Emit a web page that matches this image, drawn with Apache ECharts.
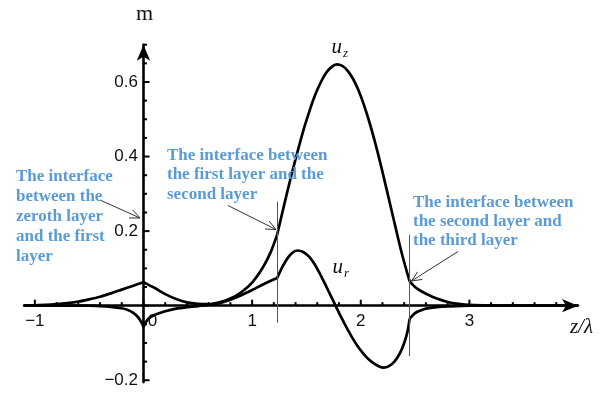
<!DOCTYPE html>
<html>
<head>
<meta charset="utf-8">
<script src="https://cdn.jsdelivr.net/npm/echarts@6/dist/echarts.min.js"></script>
<style>
  html, body { margin: 0; padding: 0; background: #fff; }
  #chart { width: 606px; height: 394px; }
</style>
</head>
<body>
<div id="chart"></div>
<script>
// Displacement amplitude along z/λ: axial (u_z) and radial (u_r) components.
const uzPoints = [
  [-1.1, 0.000], [-1.0, 0.001], [-0.9, 0.002], [-0.8, 0.004], [-0.7, 0.007],
  [-0.6, 0.011], [-0.5, 0.017], [-0.4, 0.024], [-0.3, 0.033], [-0.2, 0.043],
  [-0.1, 0.053], [0, 0.063],
  [0.05, 0.055], [0.1, 0.048], [0.2, 0.031], [0.3, 0.018], [0.4, 0.009],
  [0.5, 0.005], [0.6, 0.004], [0.7, 0.009], [0.8, 0.019], [0.9, 0.036],
  [1.0, 0.062], [1.1, 0.103], [1.17, 0.143], [1.23, 0.190],
  [1.28, 0.252], [1.33, 0.313], [1.38, 0.371], [1.43, 0.426], [1.48, 0.478],
  [1.53, 0.524], [1.58, 0.565], [1.63, 0.598], [1.68, 0.624], [1.73, 0.640],
  [1.78, 0.647], [1.83, 0.643], [1.88, 0.630], [1.93, 0.608], [1.98, 0.577],
  [2.03, 0.538], [2.08, 0.492], [2.13, 0.440], [2.18, 0.383], [2.23, 0.322],
  [2.28, 0.260], [2.33, 0.198], [2.38, 0.138], [2.45, 0.065],
  [2.5, 0.050], [2.55, 0.040], [2.6, 0.032], [2.7, 0.019], [2.8, 0.010],
  [2.9, 0.005], [3.0, 0.002], [3.2, 0.0005], [3.5, 0], [4.0, 0]
];

const urPoints = [
  [-1.1, 0], [-0.5, 0], [-0.4, -0.001], [-0.3, -0.003], [-0.2, -0.007],
  [-0.15, -0.011], [-0.1, -0.018], [-0.05, -0.031], [-0.02, -0.044], [0, -0.057],
  [0.02, -0.045], [0.05, -0.034], [0.1, -0.025], [0.2, -0.015], [0.3, -0.008],
  [0.4, -0.004], [0.5, -0.001], [0.6, 0.002], [0.7, 0.007], [0.8, 0.016],
  [0.9, 0.028], [1.0, 0.042], [1.1, 0.057], [1.23, 0.074],
  [1.28, 0.105], [1.33, 0.129], [1.38, 0.144], [1.42, 0.148], [1.47, 0.144],
  [1.52, 0.133], [1.57, 0.114], [1.62, 0.088], [1.67, 0.059], [1.72, 0.029],
  [1.77, -0.001], [1.82, -0.031], [1.87, -0.059], [1.92, -0.085], [1.97, -0.108],
  [2.02, -0.127], [2.07, -0.143], [2.12, -0.155], [2.17, -0.163], [2.21, -0.166],
  [2.26, -0.162], [2.31, -0.150], [2.36, -0.128], [2.4, -0.100], [2.43, -0.070],
  [2.45, -0.035],
  [2.5, -0.020], [2.55, -0.013], [2.6, -0.008], [2.7, -0.004], [2.8, -0.002],
  [3.0, 0], [4.0, 0]
];

// Layer boundaries (z/λ) where the profiles have a kink
const layerBreaks = [0, 1.23, 2.45];
// Interface marker lines: position and vertical span
const interfaceZ = [1.23, 2.45];
const interfaceTop = [0.279, 0.19];
const interfaceBottom = [-0.046, -0.135];

// Axis ticks and labels
const xTickMajor = [-1, 0, 1, 2, 3];
const xTickLabels = ['\u22121', '', '1', '2', '3'];
const xTickMinor = [-0.8, -0.6, -0.4, -0.2, 0.2, 0.4, 0.6, 0.8, 1.2, 1.4, 1.6, 1.8,
                    2.2, 2.4, 2.6, 2.8, 3.2, 3.4, 3.6, 3.8];
const yTickMajor = [-0.2, 0, 0.2, 0.4, 0.6];
const yTickLabels = ['\u22120.2', '', '0.2', '0.4', '0.6'];
const yTickMinor = [-0.15, -0.1, -0.05, 0.05, 0.1, 0.15, 0.25, 0.3, 0.35, 0.45,
                    0.5, 0.55, 0.65, 0.7];

// Annotation texts
const notes = [
  { text: 'The interface\nbetween the\nzeroth layer\nand the first\nlayer', x: 16, y: 167, lh: 20,
    from: [100, 200], to: [140, 218] },
  { text: 'The interface between\nthe first layer and the\nsecond layer', x: 167, y: 146, lh: 19.4,
    from: [228, 205.5], to: [276, 229.5] },
  { text: 'The interface between\nthe second layer and\nthe third layer', x: 413, y: 193, lh: 19.2,
    from: [458, 251.5], to: [411.5, 281] }
];

// Split a profile into per-layer pieces so kinks at the interfaces stay sharp
function splitByLayers(points) {
  const segs = [];
  let cur = [];
  points.forEach(p => {
    cur.push(p);
    if (layerBreaks.indexOf(p[0]) >= 0 && cur.length > 1) {
      segs.push(cur);
      cur = [p];
    }
  });
  if (cur.length > 1) segs.push(cur);
  return segs;
}

const curveStyle = { color: '#000', width: 2.7 };
const series = [];
[['u_z', uzPoints], ['u_r', urPoints]].forEach(([name, pts]) => {
  splitByLayers(pts).forEach(seg => {
    series.push({
      name, type: 'line', data: seg, showSymbol: false, smooth: 0.3,
      lineStyle: curveStyle, silent: true, z: 3
    });
  });
});

series[0].markLine = {
  silent: true, symbol: 'none', label: { show: false },
  lineStyle: { color: '#555', width: 1, type: 'solid' },
  data: interfaceZ.map((z, i) => [
    { coord: [z, interfaceTop[i]] }, { coord: [z, interfaceBottom[i]] }
  ])
};

const axisLineStyle = { color: '#000', width: 2.6 };

const chart = echarts.init(document.getElementById('chart'), null, { renderer: 'canvas' });
chart.setOption({
  animation: false,
  backgroundColor: '#fff',
  grid: { left: 24, right: 28, top: 44.7, bottom: 11.9, containLabel: false, outerBoundsMode: 'none' },
  xAxis: {
    type: 'value', min: -1.1, max: 4,
    axisLine: { onZero: true, symbol: ['none', 'arrow'], symbolSize: [10, 16], lineStyle: axisLineStyle },
    axisTick: { show: false }, axisLabel: { show: false }, splitLine: { show: false }
  },
  yAxis: {
    type: 'value', min: -0.205, max: 0.7,
    axisLine: { onZero: true, symbol: ['none', 'arrow'], symbolSize: [10, 16], lineStyle: axisLineStyle },
    axisTick: { show: false }, axisLabel: { show: false }, splitLine: { show: false }
  },
  series
});

const toPx = p => chart.convertToPixel({ gridIndex: 0 }, p);
const origin = toPx([0, 0]);
const graphics = [];
const tickStyle = { stroke: '#000', lineWidth: 2 };
const labelFont = '17px "Liberation Sans"';

// Ticks on the horizontal axis point up, on the vertical axis point right
xTickMajor.forEach((v, i) => {
  const x = toPx([v, 0])[0];
  graphics.push({ type: 'line', z: 5, shape: { x1: x, y1: origin[1], x2: x, y2: origin[1] - 6 }, style: tickStyle });
  if (xTickLabels[i]) {
    graphics.push({ type: 'text', z: 5, x: x, y: origin[1] + 16,
      style: { text: xTickLabels[i], font: labelFont, fill: '#111', align: 'center', verticalAlign: 'middle' } });
  }
});
xTickMinor.forEach(v => {
  const x = toPx([v, 0])[0];
  graphics.push({ type: 'line', z: 5, shape: { x1: x, y1: origin[1], x2: x, y2: origin[1] - 3.5 }, style: tickStyle });
});
yTickMajor.forEach((v, i) => {
  const y = toPx([0, v])[1];
  graphics.push({ type: 'line', z: 5, shape: { x1: origin[0], y1: y, x2: origin[0] + 6, y2: y }, style: tickStyle });
  if (yTickLabels[i]) {
    graphics.push({ type: 'text', z: 5, x: origin[0] - 5.5, y: y,
      style: { text: yTickLabels[i], font: labelFont, fill: '#111', align: 'right', verticalAlign: 'middle' } });
  }
});
yTickMinor.forEach(v => {
  const y = toPx([0, v])[1];
  graphics.push({ type: 'line', z: 5, shape: { x1: origin[0], y1: y, x2: origin[0] + 3.5, y2: y }, style: tickStyle });
});

// Zero label on the horizontal axis, nudged to the right of the vertical axis
graphics.push({
  type: 'text', x: origin[0] + 9, y: origin[1] + 15.5, z: 5,
  style: { text: '0', font: labelFont, fill: '#111', align: 'center', verticalAlign: 'middle' }
});

// Arrowhead as an open "V" at the tip
function arrowHead(from, to, len, ang) {
  const a = Math.atan2(to[1] - from[1], to[0] - from[0]);
  return [
    [to[0] - len * Math.cos(a - ang), to[1] - len * Math.sin(a - ang)],
    to,
    [to[0] - len * Math.cos(a + ang), to[1] - len * Math.sin(a + ang)]
  ];
}

const noteColor = '#5b9bd5';
notes.forEach(n => {
  graphics.push({
    type: 'text', x: n.x, y: n.y, z: 10,
    style: { text: n.text, fill: noteColor, font: 'bold 17px "Liberation Serif"',
             lineHeight: n.lh, verticalAlign: 'top', align: 'left' }
  });
  graphics.push({
    type: 'polyline', z: 9, shape: { points: [n.from, n.to] },
    style: { stroke: '#333', lineWidth: 1, fill: null }
  });
  graphics.push({
    type: 'polyline', z: 9, shape: { points: arrowHead(n.from, n.to, 11, 0.42) },
    style: { stroke: '#333', lineWidth: 1, fill: null }
  });
});

// Axis titles
graphics.push({
  type: 'text', x: origin[0] + 1, y: 14, z: 10,
  style: { text: 'm', font: '22px "Liberation Serif"', fill: '#111',
           align: 'center', verticalAlign: 'middle' }
});
graphics.push({
  type: 'text', x: 593, y: 327, z: 10,
  style: { text: 'z/\u03bb', font: 'italic 21px "Liberation Serif"', fill: '#111',
           align: 'right', verticalAlign: 'middle' }
});

// Curve names with subscripts
[['z', 331.5, 47], ['r', 332.5, 267]].forEach(([sub, x, y]) => {
  graphics.push({
    type: 'text', x: x, y: y, z: 10,
    style: { text: 'u', font: 'italic 21px "Liberation Serif"', fill: '#111',
             align: 'left', verticalAlign: 'middle' }
  });
  graphics.push({
    type: 'text', x: x + 11.5, y: y + 6.5, z: 10,
    style: { text: sub, font: 'italic 13px "Liberation Serif"', fill: '#111',
             align: 'left', verticalAlign: 'middle' }
  });
});

chart.setOption({ graphic: graphics });
</script>
</body>
</html>
